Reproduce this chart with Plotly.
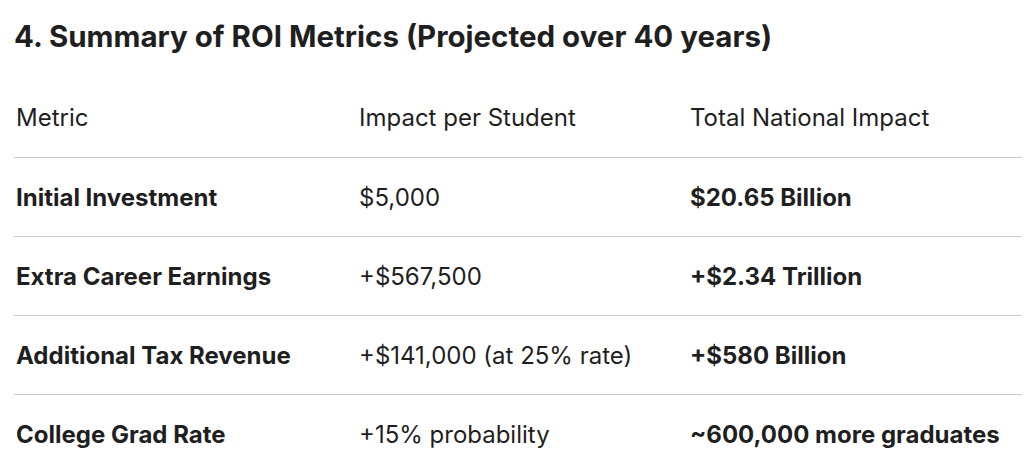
import plotly.graph_objects as go

# the page body adds an 8px margin, so the figure is drawn 8px smaller
W, H = 1022, 464

headers = ["Metric", "Impact per Student", "Total National Impact"]
metrics = ["Initial Investment", "Extra Career Earnings", "Additional Tax Revenue", "College Grad Rate"]
per_student = ["$5,000", "+$567,500", "+$141,000 (at 25% rate)", "+15% probability"]
national = ["$20.65 Billion", "+$2.34 Trillion", "+$580 Billion", "~600,000 more graduates"]

FONT = "Inter"
TEXT = "#1f1f1f"
RULE = "#cccccc"

TABLE_TOP = 92   # px from top of figure
ROW_H = 79

fig = go.Figure(
    go.Table(
        domain=dict(x=[0, 1], y=[0, 1 - TABLE_TOP / H]),
        columnwidth=[343, 331, 348],
        header=dict(
            values=headers,
            align="left",
            height=ROW_H + 1,
            font=dict(family=FONT, size=24, color=TEXT),
            fill_color="white",
            line=dict(color="white", width=0),
        ),
        cells=dict(
            values=[metrics, per_student, national],
            align="left",
            height=ROW_H,
            font=dict(family=FONT, size=24, color=TEXT, weight=[700, 400, 700]),
            fill_color="white",
            line=dict(color="white", width=0),
        ),
    )
)

# horizontal rules under the header and each row
for i in range(4):
    y = 1 - (149.5 + ROW_H * i) / H
    fig.add_shape(type="line", xref="paper", yref="paper", x0=6 / W, x1=1, y0=y, y1=y,
                  line=dict(color=RULE, width=1.2))

fig.update_layout(
    width=W,
    height=H,
    margin=dict(l=0, r=0, t=0, b=0),
    paper_bgcolor="white",
    title=dict(
        text="<b>4. Summary of ROI Metrics (Projected over 40 years)</b>",
        x=6 / W, xanchor="left", y=1 - 29 / H, yanchor="middle",
        font=dict(family=FONT, size=29.5, color=TEXT),
    ),
)

fig.write_html("out.html")
